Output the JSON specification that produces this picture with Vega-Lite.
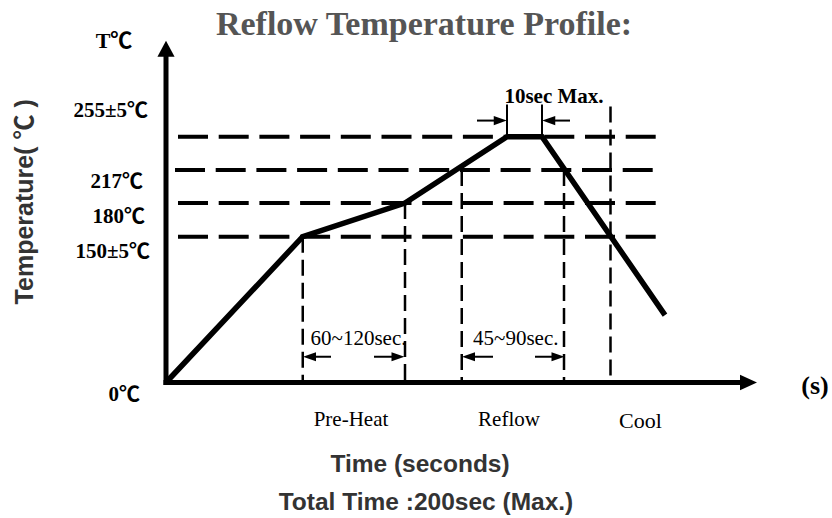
{
  "$schema": "https://vega.github.io/schema/vega-lite/v6.json",
  "width": 832,
  "height": 518,
  "autosize": {"type": "none"},
  "padding": 0,
  "background": "white",
  "config": {"view": {"stroke": null}},
  "datasets": {
    "profile": [
      {"t": 0, "T": 0},
      {"t": 54.7, "T": 150},
      {"t": 95.6, "T": 180},
      {"t": 136.4, "T": 255},
      {"t": 150.4, "T": 255},
      {"t": 199.6, "T": 69.3}
    ],
    "limits": [
      {"T": 255, "t": 4.8, "t2": 196.2},
      {"T": 217, "t": 3.6, "t2": 194.8},
      {"T": 180, "t": 4.8, "t2": 196.2},
      {"T": 150, "t": 4.8, "t2": 196.2}
    ],
    "markers": [
      {"t": 54.7, "T": 150, "T2": 0},
      {"t": 95.6, "T": 180, "T2": 0},
      {"t": 118.3, "T": 217, "T2": 0},
      {"t": 159.2, "T": 217, "T2": 0},
      {"t": 177.8, "T": 289.5, "T2": 0}
    ],
    "peak": [
      {"t": 136.4, "T": 291.8, "T2": 255},
      {"t": 150.4, "T": 291.8, "T2": 255}
    ],
    "shafts": [
      {"t": 124.4, "t2": 134, "T": 273.4},
      {"t": 161.6, "t2": 152.6, "T": 273.4},
      {"t": 66, "t2": 57, "T": 26.5},
      {"t": 83.2, "t2": 92.6, "T": 26.5},
      {"t": 130.8, "t2": 121, "T": 26.5},
      {"t": 147.6, "t2": 157, "T": 26.5}
    ],
    "heads": [
      {"t": 136.3, "T": 273.4, "dir": "right"},
      {"t": 150.5, "T": 273.4, "dir": "left"},
      {"t": 54.8, "T": 26.5, "dir": "left"},
      {"t": 95.4, "T": 26.5, "dir": "right"},
      {"t": 118.4, "T": 26.5, "dir": "left"},
      {"t": 159.4, "T": 26.5, "dir": "right"}
    ],
    "axes": [
      {"t": 0, "T": 0, "t2": 0, "T2": 349.4},
      {"t": 0, "T": 0, "t2": 231.6, "T2": 0}
    ],
    "axisTips": [
      {"t": 0, "T": 364.4, "dir": "up"},
      {"t": 236.4, "T": 0, "dir": "right"}
    ],
    "tempLabels": [
      {"label": "255±5℃", "t": -7.2, "T": 283.8},
      {"label": "217℃", "t": -9.2, "T": 203.5},
      {"label": "180℃", "t": -8.4, "T": 167.8},
      {"label": "150±5℃", "t": -6.4, "T": 134.6},
      {"label": "0℃", "t": -10.4, "T": -12.8}
    ],
    "title": [{"label": "Reflow Temperature Profile:", "t": 103.2, "T": 370.5}],
    "unitT": [{"label": "T℃", "t": -20.8, "T": 364.4}],
    "unitS": [{"label": "(s)", "t": 259.6, "T": -3.6}],
    "peakNote": [{"label": "10sec Max.", "t": 155.2, "T": 300}],
    "spans": [
      {"label": "60~120sec.", "t": 77, "T": 45},
      {"label": "45~90sec.", "t": 139.9, "T": 45.2}
    ],
    "phases": [
      {"label": "Pre-Heat", "t": 74, "T": -44.7},
      {"label": "Reflow", "t": 137.2, "T": -44.7}
    ],
    "cool": [{"label": "Cool", "t": 189.8, "T": -46.7}],
    "yTitle": [{"label": "Temperature( ℃ )", "t": -56.4, "T": 181.3}],
    "xTitles": [
      {"label": "Time (seconds)", "t": 101.6, "T": -91.6},
      {"label": "Total Time :200sec (Max.)", "t": 104, "T": -131.6}
    ]
  },
  "encoding": {
    "x": {"field": "t", "type": "quantitative", "axis": null,
      "scale": {"domain": [-66.4, 266.4], "nice": false, "zero": false}},
    "y": {"field": "T", "type": "quantitative", "axis": null,
      "scale": {"domain": [0, 150, 180, 217, 255], "range": [382.5, 236.7, 203, 170, 136.7], "nice": false, "zero": false}}
  },
  "layer": [
    {
      "data": {"name": "limits"},
      "mark": {"type": "rule", "color": "black", "strokeWidth": 4, "strokeDash": [30, 10.7]},
      "encoding": {"x2": {"field": "t2"}}
    },
    {
      "data": {"name": "markers"},
      "mark": {"type": "rule", "color": "black", "strokeWidth": 2.5, "strokeDash": [16, 7]},
      "encoding": {"y2": {"field": "T2"}}
    },
    {
      "data": {"name": "peak"},
      "mark": {"type": "rule", "color": "black", "strokeWidth": 2},
      "encoding": {"y2": {"field": "T2"}}
    },
    {
      "data": {"name": "shafts"},
      "mark": {"type": "rule", "color": "black", "strokeWidth": 2},
      "encoding": {"x2": {"field": "t2"}}
    },
    {
      "data": {"name": "heads"},
      "transform": [{"filter": "datum.dir == 'right'"}],
      "mark": {"type": "point", "filled": true, "color": "black", "opacity": 1, "strokeWidth": 0, "size": 676, "shape": "M0,0L-1,-0.35L-1,0.35Z"}
    },
    {
      "data": {"name": "heads"},
      "transform": [{"filter": "datum.dir == 'left'"}],
      "mark": {"type": "point", "filled": true, "color": "black", "opacity": 1, "strokeWidth": 0, "size": 676, "shape": "M0,0L1,-0.35L1,0.35Z"}
    },
    {
      "data": {"name": "profile"},
      "mark": {"type": "line", "color": "black", "strokeWidth": 5.5, "strokeCap": "butt", "strokeJoin": "miter"}
    },
    {
      "data": {"name": "axes"},
      "mark": {"type": "rule", "color": "black", "strokeWidth": 5, "strokeCap": "square"},
      "encoding": {"x2": {"field": "t2"}, "y2": {"field": "T2"}}
    },
    {
      "data": {"name": "axisTips"},
      "transform": [{"filter": "datum.dir == 'up'"}],
      "mark": {"type": "point", "filled": true, "color": "black", "opacity": 1, "strokeWidth": 0, "size": 1089, "shape": "M0,0L-0.52,0.97L0.52,0.97Z"}
    },
    {
      "data": {"name": "axisTips"},
      "transform": [{"filter": "datum.dir == 'right'"}],
      "mark": {"type": "point", "filled": true, "color": "black", "opacity": 1, "strokeWidth": 0, "size": 1089, "shape": "M0,0L-1.03,-0.47L-1.03,0.47Z"}
    },
    {
      "data": {"name": "title"},
      "mark": {"type": "text", "font": "'Liberation Serif', serif", "fontWeight": "bold", "fontSize": 34, "color": "#555555", "align": "center", "baseline": "alphabetic"},
      "encoding": {"text": {"field": "label"}}
    },
    {
      "data": {"name": "tempLabels"},
      "mark": {"type": "text", "font": "'Liberation Serif', 'Noto Sans CJK SC'", "fontWeight": "bold", "fontSize": 21, "color": "black", "align": "right", "baseline": "middle"},
      "encoding": {"text": {"field": "label"}}
    },
    {
      "data": {"name": "unitT"},
      "mark": {"type": "text", "font": "'Liberation Serif', 'Noto Sans CJK SC'", "fontWeight": "bold", "fontSize": 22, "color": "black", "align": "center", "baseline": "middle"},
      "encoding": {"text": {"field": "label"}}
    },
    {
      "data": {"name": "unitS"},
      "mark": {"type": "text", "font": "'Liberation Serif', serif", "fontWeight": "bold", "fontSize": 26, "color": "black", "align": "center", "baseline": "middle"},
      "encoding": {"text": {"field": "label"}}
    },
    {
      "data": {"name": "peakNote"},
      "mark": {"type": "text", "font": "'Liberation Serif', serif", "fontWeight": "bold", "fontSize": 21, "color": "black", "align": "center", "baseline": "middle"},
      "encoding": {"text": {"field": "label"}}
    },
    {
      "data": {"name": "spans"},
      "mark": {"type": "text", "font": "'Liberation Serif', serif", "fontSize": 21, "color": "black", "align": "center", "baseline": "middle"},
      "encoding": {"text": {"field": "label"}}
    },
    {
      "data": {"name": "phases"},
      "mark": {"type": "text", "font": "'Liberation Serif', serif", "fontSize": 21, "color": "black", "align": "center", "baseline": "alphabetic"},
      "encoding": {"text": {"field": "label"}}
    },
    {
      "data": {"name": "cool"},
      "mark": {"type": "text", "font": "'Liberation Serif', serif", "fontSize": 22, "color": "black", "align": "center", "baseline": "alphabetic"},
      "encoding": {"text": {"field": "label"}}
    },
    {
      "data": {"name": "yTitle"},
      "mark": {"type": "text", "font": "'Liberation Sans', 'Noto Sans CJK SC'", "fontWeight": "bold", "fontSize": 25, "color": "#333333", "align": "center", "baseline": "middle", "angle": 270},
      "encoding": {"text": {"field": "label"}}
    },
    {
      "data": {"name": "xTitles"},
      "mark": {"type": "text", "font": "'Liberation Sans', sans-serif", "fontWeight": "bold", "fontSize": 24.5, "color": "#333333", "align": "center", "baseline": "alphabetic"},
      "encoding": {"text": {"field": "label"}}
    }
  ]
}
